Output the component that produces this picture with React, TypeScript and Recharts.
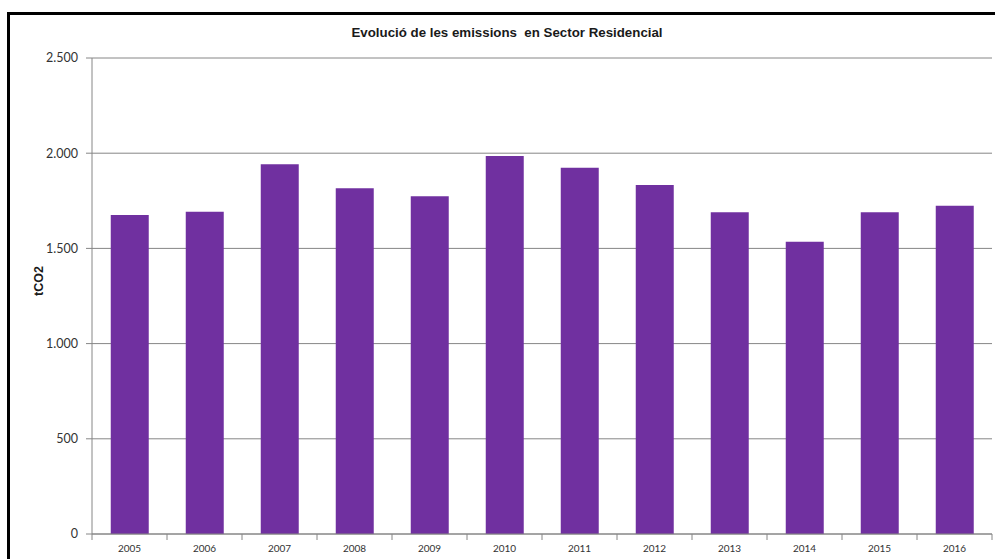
import React from 'react';
import { BarChart, Bar, XAxis, YAxis, CartesianGrid, Label } from 'recharts';

const years = ['2005', '2006', '2007', '2008', '2009', '2010', '2011', '2012', '2013', '2014', '2015', '2016'];
const emissions = [1675, 1693, 1942, 1816, 1774, 1985, 1924, 1833, 1690, 1535, 1690, 1724];
const yTicks = [0, 500, 1000, 1500, 2000, 2500];

const data = years.map((year, i) => ({ year, value: emissions[i] }));

const fmt = (v: number) => v.toLocaleString('de-DE');

const XTick = (props: any) => {
    const { x, y, payload, index, width } = props;
    const half = width / years.length / 2;
    return (
        <g>
            <line x1={x + half} x2={x + half} y1={y - 8} y2={y - 2} stroke="#868686" />
            {index === 0 && <line x1={x - half} x2={x - half} y1={y - 8} y2={y - 2} stroke="#868686" />}
            <text x={x} y={y + 10} textAnchor="middle" fontSize={10} fill="#333" fontFamily="Lato">
                {payload.value}
            </text>
        </g>
    );
};

export default function App() {
    return (
        <div style={{ position: 'fixed', top: 0, left: 0, width: 995, height: 559, overflow: 'hidden', background: '#fff' }}>
            <div
                style={{
                    position: 'absolute',
                    left: 7,
                    top: 12,
                    width: 1100,
                    height: 700,
                    border: '3px solid #000',
                }}
            />
            <div
                style={{
                    position: 'absolute',
                    top: 25,
                    left: 0,
                    width: 1014,
                    textAlign: 'center',
                    fontFamily: '"Liberation Sans", Arial, sans-serif',
                    fontWeight: 'bold',
                    fontSize: 13.3,
                    color: '#1a1a1a',
                }}
            >
                Evolució de les emissions&nbsp; en Sector Residencial
            </div>
            <div style={{ position: 'absolute', top: 0, left: 0 }}>
                <BarChart
                    width={995}
                    height={559}
                    data={data}
                    margin={{ top: 58, right: 3, bottom: 5, left: 0 }}
                    barCategoryGap="25%"
                >
                    <CartesianGrid vertical={false} stroke="#868686" />
                    <XAxis
                        dataKey="year"
                        height={20}
                        axisLine={{ stroke: '#868686' }}
                        tickLine={false}
                        tick={<XTick />}
                        interval={0}
                    />
                    <YAxis
                        width={92}
                        domain={[0, 2500]}
                        ticks={yTicks}
                        tickFormatter={fmt}
                        axisLine={{ stroke: '#868686' }}
                        tickLine={{ stroke: '#868686' }}
                        tickSize={6}
                        tickMargin={8}
                        tick={{ fontSize: 12.5, fill: '#333', fontFamily: 'Lato' }}
                    >
                        <Label
                            value="tCO2"
                            angle={-90}
                            position="insideLeft"
                            offset={39}
                            style={{ fontSize: 12.5, fontWeight: 'bold', fill: '#1a1a1a', fontFamily: '"Liberation Sans", Arial' }}
                        />
                    </YAxis>
                    <Bar dataKey="value" fill="#7030A0" isAnimationActive={false} />
                </BarChart>
            </div>
        </div>
    );
}
